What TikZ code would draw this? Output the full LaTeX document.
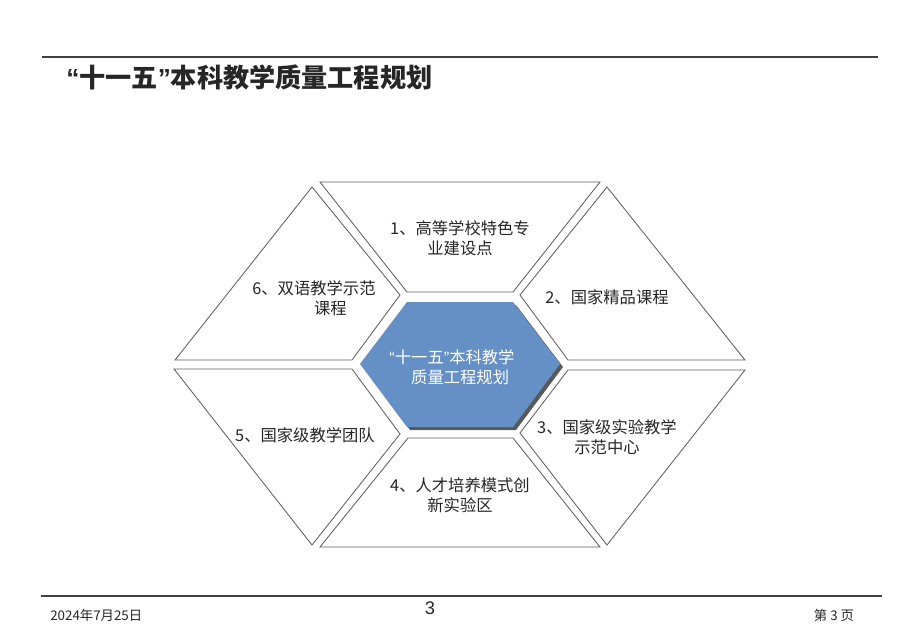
\documentclass[tikz,border=0pt]{standalone}
\usepackage{fontspec}
\setmainfont{Liberation Sans}
\newfontfamily\cjk{Noto Sans CJK SC}
\definecolor{hubblue}{RGB}{100,144,198}
\definecolor{edgegray}{RGB}{95,95,95}
\newcommand\qo{{\rmfamily“}}
\newcommand\qc{{\rmfamily”}}

\begin{document}
\begin{tikzpicture}[
    x=0.025cm, y=-0.025cm,
    cell/.style={draw=edgegray, fill=white, line width=0.6pt, line join=miter},
    hub/.style={fill=hubblue, draw=none},
    hub shadow/.style={fill=black!65, draw=none},
    label/.style={align=center, font=\cjk\fontsize{11.6}{14.2}\selectfont, text=black!85, inner sep=0pt},
    rule/.style={draw=black!75, line width=0.8pt},
    foot/.style={font=\cjk\fontsize{9.5}{11}\selectfont, text=black!85, inner sep=0pt}
]
    \useasboundingbox (0,0) rectangle (920,637);

    % header and footer rules
    \coordinate (top l) at (42,57);
    \coordinate (top r) at (878,57);
    \coordinate (bot l) at (41,596);
    \coordinate (bot r) at (882,596);
    \draw[rule] (top l) -- (top r);
    \draw[rule] (bot l) -- (bot r);

    \node[anchor=west, inner sep=0pt, text=black!85,
          font=\cjk\bfseries\fontsize{18.6}{22}\selectfont] (title) at (66,77) {\qo 十一五\qc 本科教学质量工程规划};

    % six outer cells
    \draw[cell] (320,182) -- (600,182) -- (513,292) -- (407,292) -- cycle;
    \draw[cell] (607,187) -- (745,360) -- (568,360) -- (520,295) -- cycle;
    \draw[cell] (568,370) -- (745,370) -- (607,545) -- (520,433) -- cycle;
    \draw[cell] (408,438) -- (513,438) -- (600,547) -- (320,547) -- cycle;
    \draw[cell] (174,369) -- (352,369) -- (400,434) -- (312,545) -- cycle;
    \draw[cell] (312,187) -- (400,295) -- (352,360) -- (175,360) -- cycle;

    % centre hexagon
    \fill[hub shadow] (410,305) -- (516,305) -- (563,367) -- (516,430) -- (410,430) -- (363,367) -- cycle;
    \fill[hub] (407,302) -- (513,302) -- (560,364) -- (513,427) -- (407,427) -- (360,364) -- cycle;

    \node[label, text=white] (hub) at (452,367) {\qo 十一五\qc 本科教学\\\hspace*{1em}质量工程规划};
    \node[label] (c1) at (460,238) {1、高等学校特色专\\业建设点};
    \node[label] (c2) at (607,297) {2、国家精品课程};
    \node[label] (c3) at (607,437) {3、国家级实验教学\\示范中心};
    \node[label] (c4) at (460,495) {4、人才培养模式创\\新实验区};
    \node[label] (c5) at (305,435) {5、国家级教学团队};
    \node[label] (c6) at (314,298) {6、双语教学示范\\\hspace*{2em}课程};

    \node[foot, anchor=west] (date) at (50,615) {2024年7月25日};
    \node[foot, font=\fontsize{13}{15}\selectfont] (pg) at (430,608) {3};
    \node[foot] (page) at (834,615) {第 3 页};
\end{tikzpicture}
\end{document}
